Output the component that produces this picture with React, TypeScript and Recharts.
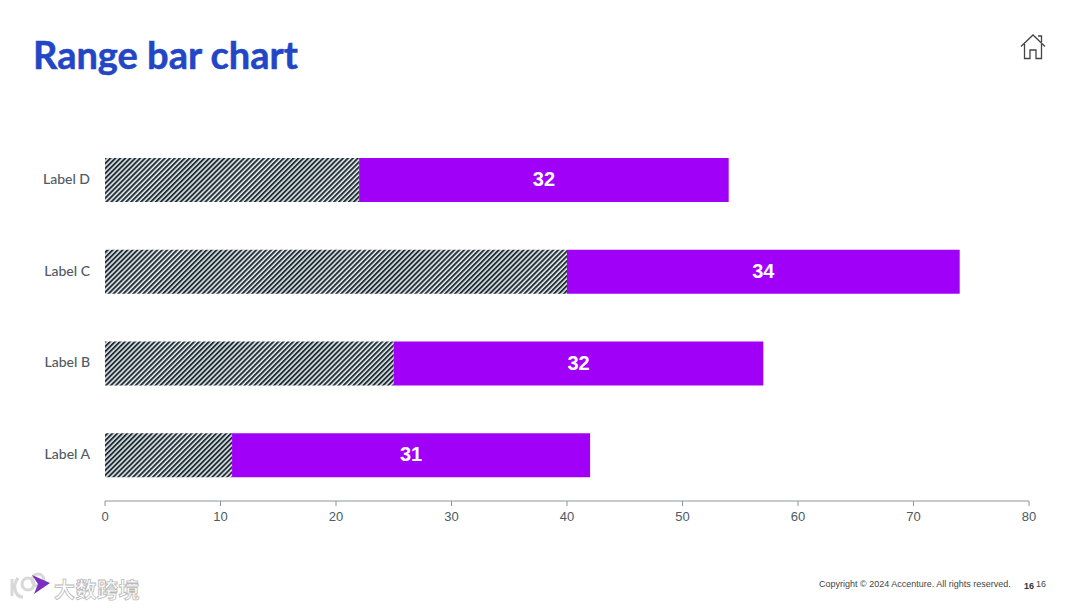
import React from 'react';
import { BarChart, Bar, XAxis, YAxis, LabelList } from 'recharts';

const categories = ['Label A', 'Label B', 'Label C', 'Label D'];
const startValues = [11, 25, 40, 22];
const rangeValues = [31, 32, 34, 32];
const xTicks = [0, 10, 20, 30, 40, 50, 60, 70, 80];

const chartData = categories.map((label, i) => ({
    label,
    start: startValues[i],
    range: rangeValues[i],
}));

const App: React.FC = () => {
    return (
        <div style={{ position: 'absolute', left: 0, top: 0, width: 1080, height: 608, background: '#fff', overflow: 'hidden' }}>
            <div style={{ position: 'absolute', left: 33, top: 30, fontFamily: 'Lato, sans-serif', fontWeight: 700, fontSize: 38, lineHeight: '48px', color: '#2246c6', WebkitTextStroke: '0.5px #2246c6', whiteSpace: 'nowrap' }}>
                Range bar chart
            </div>

            <svg style={{ position: 'absolute', left: 1020, top: 33 }} width="26" height="27" viewBox="0 0 26 27" fill="none" stroke="#444" strokeWidth="1.3">
                <path d="M1 13.5 L13 2 L25 13.5" />
                <path d="M4.5 11 V25.5 H10 V17 H16 V25.5 H21.5 V11" />
                <path d="M18 3 H21.5 V9" />
            </svg>

            <BarChart
                width={1080}
                height={608}
                data={chartData}
                layout="vertical"
                margin={{ top: 134, right: 51, bottom: 77, left: 5 }}
                style={{ position: 'absolute', left: 0, top: 0 }}
            >
                <defs>
                    <pattern id="hatch" width="3.5" height="3.5" patternUnits="userSpaceOnUse" patternTransform="rotate(45)">
                        <rect width="3.5" height="3.5" fill="#eef1f1" />
                        <rect width="2" height="3.5" fill="#22303a" />
                    </pattern>
                </defs>
                <XAxis
                    type="number"
                    domain={[0, 80]}
                    ticks={xTicks}
                    height={30}
                    stroke="#8a979e"
                    tickSize={5}
                    tickMargin={6}
                    tick={{ fill: '#4b5a66', fontSize: 13, fontFamily: '"Liberation Sans", Arial, sans-serif' }}
                />
                <YAxis
                    type="category"
                    dataKey="label"
                    reversed
                    width={100}
                    axisLine={false}
                    tickLine={false}
                    tickMargin={15}
                    tickSize={0}
                    dy={-1}
                    tick={{ fill: '#4f5a64', fontSize: 14, fontFamily: 'Lato, sans-serif', fontWeight: 500 }}
                />
                <Bar dataKey="start" stackId="a" fill="url(#hatch)" barSize={44} isAnimationActive={false} />
                <Bar dataKey="range" stackId="a" fill="#a100f8" barSize={44} isAnimationActive={false}>
                    <LabelList dataKey="range" position="center" dy={-1} fill="#fff" fontSize={20} fontWeight={700} fontFamily='"Liberation Sans", Arial, sans-serif' />
                </Bar>
            </BarChart>

            <svg style={{ position: 'absolute', left: 8, top: 570 }} width="46" height="30" viewBox="0 0 46 30" fill="none">
                <path d="M4 9 V26 M10 8 C4 16 7 27 15 27" stroke="#d8d8d8" strokeWidth="3" />
                <circle cx="20" cy="14" r="6" stroke="#d8d8d8" strokeWidth="3" />
                <circle cx="30" cy="10" r="6" stroke="#d8d8d8" strokeWidth="3" />
                <path d="M24 5 L42 13 L26 24 L30 14 Z" fill="#7b2fbf" />
            </svg>
            <div style={{ position: 'absolute', left: 54, top: 575, fontFamily: '"Noto Sans CJK SC", sans-serif', fontSize: 21, lineHeight: '26px', fontWeight: 700, letterSpacing: 0.5, color: '#fff', WebkitTextStroke: '0.8px #b9b9b9', whiteSpace: 'nowrap' }}>
                大数跨境
            </div>

            <div style={{ position: 'absolute', left: 819, top: 578, fontFamily: '"Liberation Sans", Arial, sans-serif', fontSize: 9, lineHeight: '12px', color: '#444', whiteSpace: 'nowrap' }}>
                Copyright © 2024 Accenture. All rights reserved.
            </div>
            <div style={{ position: 'absolute', left: 1024, top: 580, fontFamily: '"Liberation Sans", Arial, sans-serif', fontSize: 9, fontWeight: 700, lineHeight: '12px', color: '#333' }}>
                16
            </div>
            <div style={{ position: 'absolute', left: 1036, top: 578, fontFamily: '"Liberation Sans", Arial, sans-serif', fontSize: 9, lineHeight: '12px', color: '#444' }}>
                16
            </div>
        </div>
    );
};

export default App;
